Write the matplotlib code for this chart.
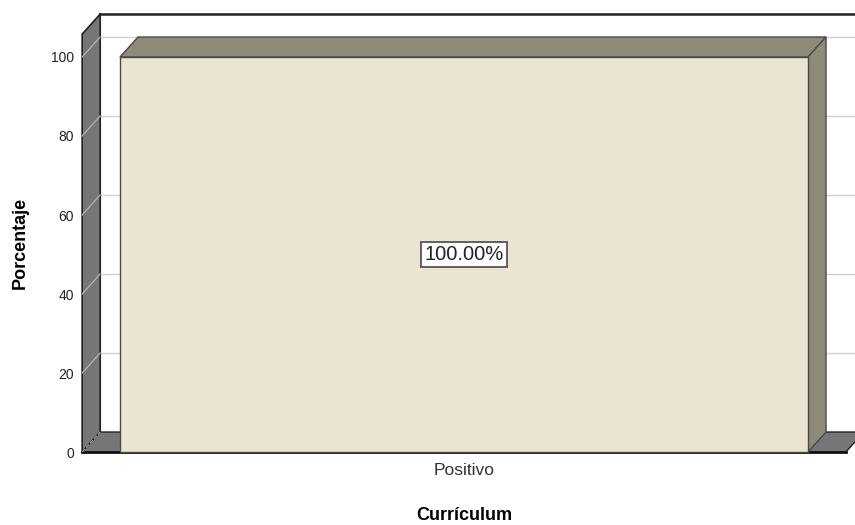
import matplotlib.pyplot as plt
from matplotlib.patches import Polygon, Rectangle

plt.rcParams['font.family'] = ['Liberation Sans', 'DejaVu Sans']

categories = ['Positivo']
percentages = [100.0]
y_ticks = [0, 20, 40, 60, 80, 100]

# pseudo-3D geometry, in data units
dx, dy = 0.0262, 5.06          # depth offset of the back plane
x0, x1 = -0.555, 0.555         # front floor extent
wall_top = 105.8

fig = plt.figure(figsize=(8.55, 5.25), dpi=100)
ax = fig.add_axes([0, 0, 1, 1])
ax.set_xlim(-0.6744, 0.5683)
ax.set_ylim(-18.48, 114.43)

# back wall gridlines
for v in y_ticks[1:]:
    ax.plot([x0 + dx, x1 + dx + 0.05], [v + dy, v + dy], color='#cfcfcf', lw=1, zorder=1)

# back wall top edge and left edge
ax.plot([x0 + dx, x1 + dx + 0.05], [wall_top + dy, wall_top + dy], color='#222222', lw=1.8, zorder=2)
ax.plot([x0 + dx, x0 + dx], [dy, wall_top + dy], color='#222222', lw=1.5, zorder=2)

# left wall
ax.add_patch(Polygon([(x0, 0), (x0, wall_top), (x0 + dx, wall_top + dy), (x0 + dx, dy)],
                     closed=True, fc='#767676', ec='#222222', lw=1.2, zorder=3))
# diagonals on the left wall
for v in y_ticks[1:]:
    ax.plot([x0, x0 + dx], [v, v + dy], color='#b5b5b5', lw=0.9, zorder=3.5)
# floor
ax.add_patch(Polygon([(x0, 0), (x0 + dx, dy), (x1 + dx, dy), (x1, 0)],
                     closed=True, fc='#767676', ec='#222222', lw=1.0, zorder=3))
ax.plot([x0, x1], [0, 0], color='#111111', lw=2, zorder=4)
ax.plot([x0, x0 + dx], [0, dy], color='#aaaaaa', lw=0.8, ls='--', zorder=4)

# bars
width = 1.0
for i, (cat, val) in enumerate(zip(categories, percentages)):
    left, right = i - width / 2, i + width / 2
    ax.add_patch(Polygon([(left, val), (left + dx, val + dy), (right + dx, val + dy), (right, val)],
                         closed=True, fc='#8e8a7a', ec='#4a4a4a', lw=1, zorder=5))
    ax.add_patch(Polygon([(right, 0), (right + dx, dy), (right + dx, val + dy), (right, val)],
                         closed=True, fc='#8e8a7a', ec='#4a4a4a', lw=1, zorder=5))
    ax.add_patch(Rectangle((left, 0), width, val, fc='#eae4d0', ec='#4a4a4a', lw=1, zorder=6))
    ax.text(i, val / 2, f'{val:.2f}%', ha='center', va='center', fontsize=14.5, color='#222222',
            zorder=7, bbox=dict(boxstyle='square,pad=0.15', fc='white', ec='#555555', lw=1.3))

# axes ticks
for s in ax.spines.values():
    s.set_color('none')
ax.spines['left'].set_position(('data', x0))
ax.spines['bottom'].set_position(('data', 0))
ax.set_yticks(y_ticks)
ax.set_yticklabels([str(t) for t in y_ticks], fontsize=10, color='#222222')
ax.set_xticks(range(len(categories)))
ax.set_xticklabels(categories, fontsize=12.5, color='#333333')
ax.tick_params(axis='y', length=0, pad=6)
ax.tick_params(axis='x', length=0, pad=8)

fig.text(464 / 855, 1 - 516 / 525, 'Currículum', ha='center', va='center', fontsize=13, fontweight='bold')
fig.text(20 / 855, 1 - 243 / 525, 'Porcentaje', ha='center', va='center', fontsize=13,
         fontweight='bold', rotation=90)

fig.savefig('out.png', dpi=100)
